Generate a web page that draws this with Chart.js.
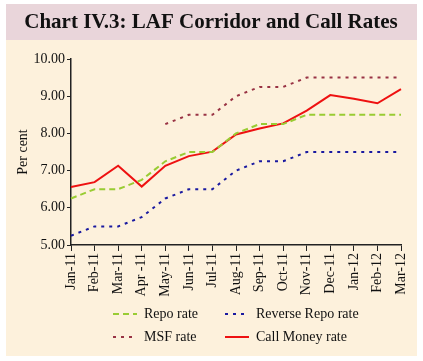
<!DOCTYPE html>
<html>
<head>
<meta charset="utf-8">
<script src="https://cdn.jsdelivr.net/npm/chart.js@4/dist/chart.umd.min.js"></script>
<style>
  html, body { margin: 0; padding: 0; background: #fff; }
  #wrap { width: 423px; height: 361px; }
</style>
</head>
<body>
<div id="wrap"><canvas id="myChart" width="423" height="361"></canvas></div>
<script>
var months = ['Jan-11', 'Feb-11', 'Mar-11', 'Apr -11', 'May-11', 'Jun-11', 'Jul-11', 'Aug-11',
              'Sep-11', 'Oct-11', 'Nov-11', 'Dec-11', 'Jan-12', 'Feb-12', 'Mar-12'];
var repoRate = [6.25, 6.5, 6.5, 6.75, 7.25, 7.5, 7.5, 8.0, 8.25, 8.25, 8.5, 8.5, 8.5, 8.5, 8.5];
var reverseRepoRate = [5.25, 5.5, 5.5, 5.75, 6.25, 6.5, 6.5, 7.0, 7.25, 7.25, 7.5, 7.5, 7.5, 7.5, 7.5];
var msfRate = [null, null, null, null, 8.25, 8.5, 8.5, 9.0, 9.25, 9.25, 9.5, 9.5, 9.5, 9.5, 9.5];
var callMoneyRate = [6.56, 6.69, 7.13, 6.57, 7.13, 7.39, 7.51, 7.97, 8.13, 8.27, 8.61, 9.03, 8.93, 8.81, 9.19];
var yTicks = [5, 6, 7, 8, 9, 10];

var serif = '"Liberation Serif", "Times New Roman", serif';

// backgrounds, title and the two-column legend
var decor = {
  id: 'decor',
  beforeDraw: function(chart) {
    var c = chart.ctx;
    c.save();
    c.fillStyle = '#e9d5da';
    c.fillRect(6, 4, 411, 36);
    c.fillStyle = '#fdf1dc';
    c.fillRect(6, 40, 411, 316);
    c.fillStyle = '#111';
    c.font = 'bold 21px ' + serif;
    c.textAlign = 'center';
    c.textBaseline = 'middle';
    c.fillText('Chart IV.3: LAF Corridor and Call Rates', 211, 23);
    c.restore();
  },
  afterDraw: function(chart) {
    var c = chart.ctx;
    var spots = [[113, 314], [225, 314], [113, 337], [225, 337]];
    c.save();
    c.font = '14px ' + serif;
    c.textBaseline = 'middle';
    chart.data.datasets.forEach(function(ds, i) {
      var x = spots[i][0], y = spots[i][1];
      c.strokeStyle = ds.borderColor;
      c.lineWidth = ds.borderWidth;
      c.setLineDash(ds.borderDash || []);
      c.beginPath();
      c.moveTo(x, y);
      c.lineTo(x + 24, y);
      c.stroke();
      c.setLineDash([]);
      c.fillStyle = '#111';
      c.fillText(ds.label, x + 31, y);
    });
    c.restore();
  }
};

var ctx = document.getElementById('myChart').getContext('2d');
var chart = new Chart(ctx, {
  type: 'line',
  data: {
    labels: months,
    datasets: [{
      label: 'Repo rate',
      data: repoRate,
      borderColor: '#99cc33',
      borderWidth: 2,
      borderDash: [6, 4]
    }, {
      label: 'Reverse Repo rate',
      data: reverseRepoRate,
      borderColor: '#1a1aa0',
      borderWidth: 2,
      borderDash: [3, 5]
    }, {
      label: 'MSF rate',
      data: msfRate,
      borderColor: '#993344',
      borderWidth: 2,
      borderDash: [3, 5]
    }, {
      label: 'Call Money rate',
      data: callMoneyRate,
      borderColor: '#ee1111',
      borderWidth: 2
    }]
  },
  options: {
    responsive: false,
    animation: false,
    layout: { padding: { top: 59, left: 6, right: 22, bottom: 56 } },
    elements: { point: { radius: 0 }, line: { tension: 0 } },
    plugins: { legend: { display: false }, title: { display: false }, tooltip: { enabled: false } },
    scales: {
      x: {
        offset: false,
        afterFit: function(s) { s.height = 60; },
        border: { display: true, color: '#222', width: 1.5 },
        grid: { drawOnChartArea: false, drawTicks: true, tickLength: 6, color: '#222' },
        ticks: { color: '#111', maxRotation: 90, minRotation: 90, autoSkip: false, padding: 2,
                 font: { family: serif, size: 14 } }
      },
      y: {
        min: 5, max: 10,
        afterFit: function(s) { s.width = 65; },
        afterBuildTicks: function(s) { s.ticks = yTicks.map(function(v) { return { value: v }; }); },
        border: { display: true, color: '#222', width: 1.5 },
        grid: { drawOnChartArea: false, drawTicks: true, tickLength: 4, color: '#222' },
        title: { display: true, text: 'Per cent', color: '#111', font: { family: serif, size: 14 },
                 padding: { top: 9, bottom: 0 } },
        ticks: { color: '#111', padding: 2, font: { family: serif, size: 14 },
                 callback: function(v) { return Number(v).toFixed(2); } }
      }
    }
  },
  plugins: [decor]
});
</script>
</body>
</html>
